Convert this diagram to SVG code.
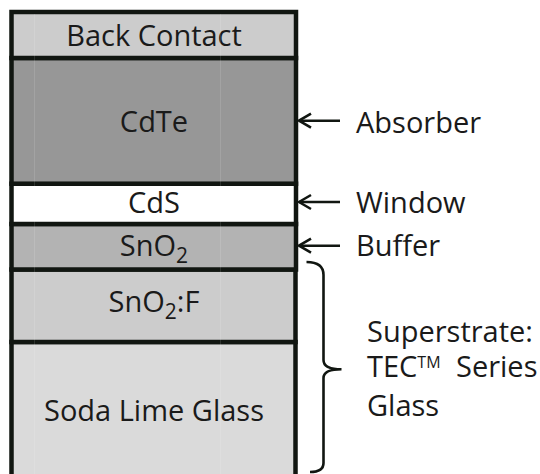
<svg xmlns="http://www.w3.org/2000/svg" width="540" height="474" viewBox="0 0 540 474">
<style>
.layer{stroke:#111611;stroke-width:4.5}
.t{font-family:"Open Sans","Liberation Sans",sans-serif;font-size:29px;fill:#1a1a1a}
.m{text-anchor:middle}
.faint{stroke:#ffffff;stroke-opacity:0.12;stroke-width:1}
.conn{stroke:#111611;stroke-width:2.6;fill:none}
</style>
<defs>
<marker id="ah" viewBox="-15 -10 17 20" refX="0" refY="0" markerWidth="17" markerHeight="20" markerUnits="userSpaceOnUse" orient="auto">
<path d="M-12,-7 L0,0 L-12,7" fill="none" stroke="#111611" stroke-width="2.6" stroke-linejoin="miter"/>
</marker>
</defs>
<g id="soda-lime-glass">
<rect class="layer" x="11.5" y="342" width="284" height="150" fill="#dadada"/>
<text class="t m" x="154" y="421">Soda Lime Glass</text>
</g>
<g id="sno2-f">
<rect class="layer" x="11.5" y="269.5" width="284" height="72.5" fill="#cccccc"/>
<text class="t m" x="154" y="312">SnO<tspan font-size="21" dy="7">2</tspan><tspan dy="-7">:F</tspan></text>
</g>
<g id="sno2">
<rect class="layer" x="11.5" y="224" width="284.5" height="45.5" fill="#b3b3b3"/>
<text class="t m" x="154" y="256">SnO<tspan font-size="21" dy="7">2</tspan></text>
</g>
<g id="cds">
<rect class="layer" x="11.5" y="183.7" width="284.5" height="40.3" fill="#ffffff"/>
<text class="t m" x="154" y="213">CdS</text>
</g>
<g id="cdte">
<rect class="layer" x="11.5" y="58" width="284.5" height="125.7" fill="#979797"/>
<text class="t m" x="154" y="132">CdTe</text>
</g>
<g id="back-contact">
<rect class="layer" x="11.5" y="12" width="284.5" height="46" fill="#cccccc"/>
<text class="t m" x="154" y="46">Back Contact</text>
</g>
<g id="faint-lines">
<line class="faint" x1="34.5" y1="14" x2="34.5" y2="474"/>
<line class="faint" x1="220.5" y1="14" x2="220.5" y2="474"/>
</g>
<g id="connectors">
<line class="conn" x1="340" y1="120.7" x2="299" y2="120.7" marker-end="url(#ah)"/>
<line class="conn" x1="340" y1="202" x2="299" y2="202" marker-end="url(#ah)"/>
<line class="conn" x1="340" y1="245.7" x2="299" y2="245.7" marker-end="url(#ah)"/>
<path class="conn" d="M306.5,262 Q323.5,262 323.5,275 L323.5,360 Q323.5,369.3 341.5,369.3 Q323.5,369.3 323.5,378 L323.5,463 Q323.5,472 310,472"/>
</g>
<g id="labels">
<text class="t" x="356" y="133">Absorber</text>
<text class="t" x="356" y="212.5">Window</text>
<text class="t" x="356" y="256">Buffer</text>
<text class="t" x="367" y="342">Superstrate:</text>
<text class="t" x="367" y="377">TEC<tspan font-size="16" dy="-9">TM</tspan><tspan x="456" dy="9">Series</tspan></text>
<text class="t" x="367" y="416">Glass</text>
</g>
</svg>
